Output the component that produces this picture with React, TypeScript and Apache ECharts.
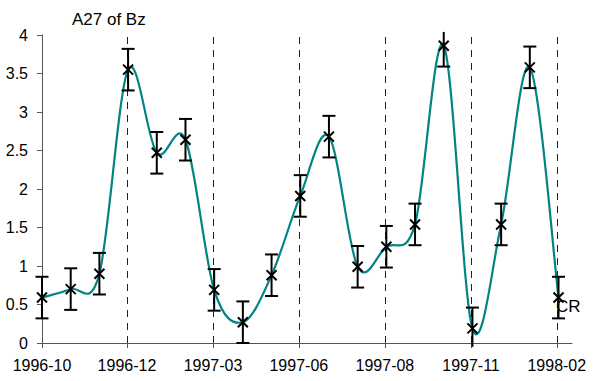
import React, { useEffect, useRef } from "react";
import * as echarts from "echarts";

// Carrington-rotation index of each point (x), measured A27 values and their error half-widths
const rotationIndex = [0, 1, 2, 3, 4, 5, 6, 7, 8, 9, 10, 11, 12, 13, 14, 15, 16, 17, 18];
const a27Values = [0.59, 0.7, 0.9, 3.55, 2.47, 2.64, 0.69, 0.27, 0.88, 1.91, 2.68, 0.99, 1.25, 1.54, 3.86, 0.19, 1.54, 3.58, 0.59];
const a27Errors = [0.27, 0.27, 0.27, 0.27, 0.27, 0.27, 0.27, 0.27, 0.27, 0.27, 0.27, 0.27, 0.27, 0.27, 0.27, 0.27, 0.27, 0.27, 0.27];

// x-axis tick positions (in rotation units) and their labels
const tickValues = [0, 2.96, 5.96, 8.95, 11.95, 14.95, 17.94];
const tickLabels = ["1996-10", "1996-12", "1997-03", "1997-06", "1997-08", "1997-11", "1998-02"];
const dashedValues = tickValues.slice(1);

const Y_MIN = 0;
const Y_MAX = 4;

const FONT = "'Liberation Sans', Arial, sans-serif";

export default function App() {
  const ref = useRef<HTMLDivElement>(null);

  useEffect(() => {
    if (!ref.current) return;
    const chart = echarts.init(ref.current, undefined, { renderer: "svg" });

    const pts = rotationIndex.map((x, i) => [x, a27Values[i]]);

    const option: any = {
      animation: false,
      backgroundColor: "#ffffff",
      title: {
        text: "A27 of Bz",
        left: 67,
        top: 6,
        textStyle: { fontFamily: FONT, fontSize: 17, fontWeight: "normal", color: "#000" },
      },
      grid: { left: 42, top: 35, right: 24, bottom: 38, containLabel: false },
      xAxis: {
        type: "value",
        min: 0,
        max: 18.47,
        splitLine: { show: false },
        axisLine: { show: true, lineStyle: { color: "#555", width: 1 } },
        axisTick: { show: true, length: 5, customValues: tickValues, lineStyle: { color: "#555" } },
        axisLabel: {
          customValues: tickValues,
          margin: 14,
          fontFamily: FONT,
          fontSize: 16,
          color: "#000",
          formatter: (v: number) => {
            let best = 0;
            for (let i = 1; i < tickValues.length; i++) {
              if (Math.abs(tickValues[i] - v) < Math.abs(tickValues[best] - v)) best = i;
            }
            return tickLabels[best];
          },
        },
      },
      yAxis: {
        type: "value",
        min: Y_MIN,
        max: Y_MAX,
        interval: 0.5,
        splitLine: { show: false },
        axisLine: { show: true, lineStyle: { color: "#555", width: 1 } },
        axisTick: { show: true, length: 5, lineStyle: { color: "#555" } },
        axisLabel: { margin: 14, fontFamily: FONT, fontSize: 16, color: "#000" },
      },
      graphic: [
        {
          type: "text",
          left: 556,
          top: 298,
          style: { text: "CR", font: `17px ${FONT}`, fill: "#000" },
        },
      ],
      series: [
        {
          type: "custom",
          name: "dashed",
          data: dashedValues.map((v) => [v]),
          silent: true,
          z: 1,
          renderItem: (params: any, api: any) => {
            const v = api.value(0);
            const p0 = api.coord([v, Y_MIN]);
            const p1 = api.coord([v, Y_MAX]);
            const x = Math.round(p0[0]) + 0.5;
            return {
              type: "line",
              shape: { x1: x, y1: p0[1], x2: x, y2: p1[1] },
              style: { stroke: "#222", lineWidth: 1, lineDash: [7, 6] },
            };
          },
        },
        {
          type: "custom",
          name: "curve",
          data: pts,
          silent: true,
          clip: true,
          z: 2,
          renderItem: (params: any, api: any) => {
            const i = params.dataIndex;
            const n = pts.length;
            if (i >= n - 1) return { type: "group", children: [] };
            const P = (k: number) => api.coord(pts[Math.max(0, Math.min(n - 1, k))]);
            const p0 = P(i - 1);
            const p1 = P(i);
            const p2 = P(i + 1);
            const p3 = P(i + 2);
            const c1 = [p1[0] + (p2[0] - p0[0]) / 6, p1[1] + (p2[1] - p0[1]) / 6];
            const c2 = [p2[0] - (p3[0] - p1[0]) / 6, p2[1] - (p3[1] - p1[1]) / 6];
            return {
              type: "bezierCurve",
              shape: {
                x1: p1[0], y1: p1[1],
                x2: p2[0], y2: p2[1],
                cpx1: c1[0], cpy1: c1[1],
                cpx2: c2[0], cpy2: c2[1],
              },
              style: { stroke: "#008484", lineWidth: 2.2, fill: "none" },
            };
          },
        },
        {
          type: "custom",
          name: "errors",
          data: rotationIndex.map((x, i) => [x, a27Values[i], a27Values[i] - a27Errors[i], a27Values[i] + a27Errors[i]]),
          silent: true,
          clip: false,
          z: 3,
          renderItem: (params: any, api: any) => {
            const x = api.value(0);
            const loV = api.value(2);
            const hiV = api.value(3);
            const c = api.coord([x, api.value(1)]);
            const lo = api.coord([x, Math.max(loV, Y_MIN - 0.05)]);
            const hi = api.coord([x, Math.min(hiV, Y_MAX + 0.04)]);
            const cap = 6.5;
            const m = 5;
            const st = { stroke: "#000", lineWidth: 2 };
            const children: any[] = [
              { type: "line", shape: { x1: c[0], y1: lo[1], x2: c[0], y2: hi[1] }, style: st },
              { type: "line", shape: { x1: c[0] - m, y1: c[1] - m, x2: c[0] + m, y2: c[1] + m }, style: st },
              { type: "line", shape: { x1: c[0] - m, y1: c[1] + m, x2: c[0] + m, y2: c[1] - m }, style: st },
            ];
            if (loV >= Y_MIN) children.push({ type: "line", shape: { x1: c[0] - cap, y1: lo[1], x2: c[0] + cap, y2: lo[1] }, style: st });
            if (hiV <= Y_MAX) children.push({ type: "line", shape: { x1: c[0] - cap, y1: hi[1], x2: c[0] + cap, y2: hi[1] }, style: st });
            return { type: "group", children };
          },
        },
      ],
    };

    chart.setOption(option);
    return () => chart.dispose();
  }, []);

  return <div ref={ref} style={{ width: 596, height: 381, position: "absolute", left: 0, top: 0 }} />;
}
